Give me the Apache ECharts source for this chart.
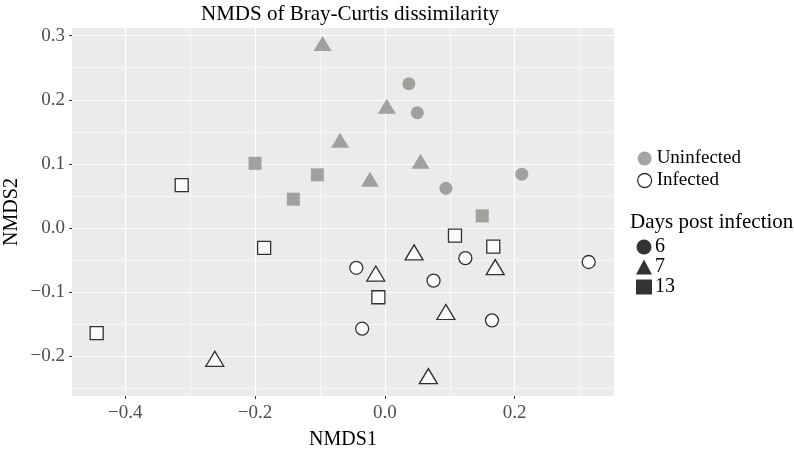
<!DOCTYPE html>
<html>
<head>
<meta charset="utf-8">
<script src="https://cdn.jsdelivr.net/npm/echarts@6/dist/echarts.min.js"></script>
<style>
  html, body { margin: 0; padding: 0; background: #fff; }
  #chart { width: 794px; height: 453px; }
</style>
</head>
<body>
<div id="chart"></div>
<script>
// NMDS coordinates: [NMDS1, NMDS2]
const uninfectedDay6 = [[0.037, 0.225], [0.050, 0.180], [0.094, 0.062], [0.211, 0.084]];
const uninfectedDay7 = [[-0.096, 0.288], [0.003, 0.190], [-0.069, 0.137], [-0.023, 0.076], [0.055, 0.104]];
const uninfectedDay13 = [[-0.200, 0.101], [-0.104, 0.083], [-0.141, 0.045], [0.150, 0.019]];
const infectedDay6 = [[-0.044, -0.062], [-0.035, -0.157], [0.124, -0.047], [0.075, -0.082], [0.165, -0.144], [0.314, -0.053]];
const infectedDay7 = [[-0.014, -0.071], [-0.262, -0.204], [0.045, -0.038], [0.170, -0.061], [0.094, -0.131], [0.067, -0.231]];
const infectedDay13 = [[-0.313, 0.067], [-0.186, -0.031], [-0.444, -0.164], [-0.010, -0.108], [0.108, -0.012], [0.167, -0.029]];

const statusLabels = ['Uninfected', 'Infected'];
const dayLabels = ['6', '7', '13'];

// axis breaks (major get labels, minor only a thin grid line)
const xTicks = [-0.4, -0.2, 0, 0.2];
const xMinorTicks = [-0.3, -0.1, 0.1, 0.3];
const yTicks = [-0.2, -0.1, 0, 0.1, 0.2, 0.3];
const yMinorTicks = [-0.25, -0.15, -0.05, 0.05, 0.15, 0.25];

const GREY = '#8d8d89';
const serif = '"Liberation Serif", "DejaVu Serif", serif';
const shapes = { '6': 'circle', '7': 'triangle', '13': 'rect' };
const sizes = { '6': 13, '7': [18, 15], '13': 13 };
const xRange = [-0.482, 0.353];
const yRange = [-0.262, 0.312];

const fmt = (v) => (Math.round(v * 10) / 10).toFixed(1).replace('-', '\u2212');

function pointSeries(name, data, day, infected) {
  return {
    name,
    type: 'scatter',
    data,
    symbol: shapes[day],
    symbolSize: sizes[day],
    itemStyle: infected
      ? { color: '#fff', borderColor: '#000', borderWidth: 1.3 }
      : { color: GREY, borderWidth: 0 },
    emphasis: { disabled: true },
    z: 3,
  };
}

function mainAxis(range, ticks, title, gap, margin) {
  return {
    type: 'value',
    min: range[0],
    max: range[1],
    name: title,
    nameLocation: 'middle',
    nameGap: gap,
    nameMoveOverlap: false,
    nameTextStyle: { fontFamily: serif, fontSize: 20, color: '#000' },
    axisLine: { show: false, onZero: false },
    axisTick: { show: true, length: 3, customValues: ticks, lineStyle: { color: '#333', width: 1 } },
    axisLabel: { fontFamily: serif, fontSize: 19, color: '#4d4d4d', margin, customValues: ticks, formatter: fmt },
    splitLine: { show: true, lineStyle: { color: '#fff', width: 1.2 } },
  };
}

function minorAxis(range, ticks) {
  return {
    type: 'value',
    min: range[0],
    max: range[1],
    axisLine: { show: false, onZero: false },
    axisTick: { show: false, customValues: ticks },
    axisLabel: { show: false },
    splitLine: { show: true, lineStyle: { color: '#fff', width: 0.6 } },
  };
}

const chart = echarts.init(document.getElementById('chart'));

chart.setOption({
  animation: false,
  backgroundColor: '#fff',
  title: {
    text: 'NMDS of Bray-Curtis dissimilarity',
    left: 345,
    textAlign: 'center',
    top: -1,
    textStyle: { fontFamily: serif, fontWeight: 'normal', fontSize: 21, color: '#000' },
  },
  grid: {
    left: 72, right: 180, top: 28, bottom: 57,
    outerBoundsMode: 'none', containLabel: false,
    show: true, backgroundColor: '#ebebeb', borderWidth: 0,
  },
  xAxis: [mainAxis(xRange, xTicks, 'NMDS1', 34, 8), minorAxis(xRange, xMinorTicks)],
  yAxis: [mainAxis(yRange, yTicks, 'NMDS2', 50, 7), minorAxis(yRange, yMinorTicks)],
  legend: [
    {
      data: statusLabels.map((n, i) => ({
        name: n,
        icon: 'circle',
        itemStyle: i === 0 ? { color: GREY, borderWidth: 0 } : { color: '#fff', borderColor: '#000', borderWidth: 1.3 },
      })),
      orient: 'vertical',
      left: 637,
      top: 149,
      padding: 0,
      itemWidth: 14,
      itemHeight: 14,
      itemGap: 3,
      textStyle: { fontFamily: serif, fontSize: 19, color: '#000', padding: [0, 0, 0, 0] },
      selectedMode: false,
    },
    {
      data: dayLabels.map((d) => ({ name: d, icon: shapes[d], itemStyle: { color: '#000', borderWidth: 0 } })),
      orient: 'vertical',
      left: 636,
      top: 237,
      padding: 0,
      itemWidth: 16,
      itemHeight: 15,
      itemGap: 0,
      textStyle: { fontFamily: serif, fontSize: 20, color: '#000', padding: [0, 0, 0, -2] },
      selectedMode: false,
    },
  ],
  graphic: [
    {
      type: 'text',
      left: 630,
      top: 212,
      style: { text: 'Days post infection', fontFamily: serif, fontSize: 21, fill: '#000' },
    },
  ],
  series: [
    pointSeries('u6', uninfectedDay6, '6', false),
    pointSeries('u7', uninfectedDay7, '7', false),
    pointSeries('u13', uninfectedDay13, '13', false),
    pointSeries('i6', infectedDay6, '6', true),
    pointSeries('i7', infectedDay7, '7', true),
    pointSeries('i13', infectedDay13, '13', true),
    // empty series that only feed the legends
    { name: 'Uninfected', type: 'scatter', data: [], symbol: 'circle', itemStyle: { color: GREY } },
    { name: 'Infected', type: 'scatter', data: [], symbol: 'circle', itemStyle: { color: '#fff', borderColor: '#000', borderWidth: 1.3 } },
    ...dayLabels.map((d) => ({ name: d, type: 'scatter', data: [], symbol: shapes[d], itemStyle: { color: '#000' } })),
  ],
});
</script>
</body>
</html>
